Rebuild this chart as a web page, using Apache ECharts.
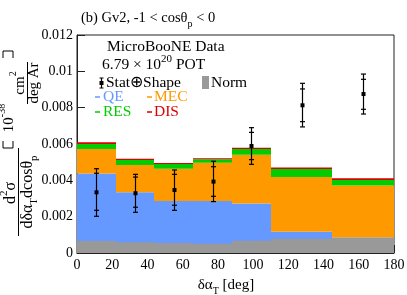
<!DOCTYPE html>
<html><head><meta charset="utf-8">
<script src="https://cdn.jsdelivr.net/npm/echarts@6/dist/echarts.min.js"></script>
<style>html,body{margin:0;padding:0;background:#fff}#c{width:407px;height:295px}</style>
</head><body><div id="c"></div>
<script>
// ---- data ----
const binEdges = [0, 22, 44, 66, 88, 110, 145, 180];
const qeVals   = [0.00437, 0.00334, 0.00286, 0.00286, 0.00272, 0.00117, 0.00086];
const mecVals  = [0.00135, 0.00150, 0.00178, 0.00211, 0.00269, 0.00301, 0.00285];
const resVals  = [0.00028, 0.00028, 0.00026, 0.00019, 0.00032, 0.00044, 0.00031];
const disVals  = [0.00009, 0.00007, 0.00005, 0.00005, 0.00007, 0.00008, 0.00009];
const normVals = [0.00066, 0.00059, 0.00055, 0.00051, 0.00068, 0.00079, 0.00084];
const dataX    = [11, 33, 55, 77, 99, 127.5, 162.5];
const dataY    = [0.00334, 0.00329, 0.00347, 0.00393, 0.00589, 0.00813, 0.00875];
const statLo   = [0.00235, 0.00252, 0.00263, 0.00312, 0.00514, 0.00723, 0.00791];
const statHi   = [0.00439, 0.00418, 0.00433, 0.00475, 0.00664, 0.00903, 0.00956];
const totLo    = [0.00202, 0.00224, 0.00235, 0.00283, 0.00488, 0.00694, 0.00765];
const totHi    = [0.00464, 0.00433, 0.00457, 0.00505, 0.00690, 0.00934, 0.00985];
const xTickLabels = ['0','20','40','60','80','100','120','140','160','180'];
const yTickLabels = ['0','0.002','0.004','0.006','0.008','0.01','0.012'];

const SERIF = '"Liberation Serif", "Times New Roman", serif';
const C_QE = '#6699ff', C_MEC = '#ff9900', C_RES = '#00cc00', C_DIS = '#dd0000', C_NORM = '#999999';

// stacked layers
const layers = [qeVals, mecVals, resVals, disVals];
const layerColors = [C_QE, C_MEC, C_RES, C_DIS];
const layerNames = ['QE','MEC','RES','DIS'];
const base = binEdges.slice(0, -1).map(() => 0);
const layerData = layers.map(vals => vals.map((v, i) => {
  const item = [binEdges[i], binEdges[i+1], base[i], base[i] + v];
  base[i] += v;
  return item;
}));
const normData = normVals.map((v, i) => [binEdges[i], binEdges[i+1], 0, v]);
const errData = dataX.map((x, i) => [x, dataY[i], statLo[i], statHi[i], totLo[i], totHi[i]]);

function renderRect(params, api) {
  const a = api.coord([api.value(0), api.value(3)]);
  const b = api.coord([api.value(1), api.value(2)]);
  const x0 = Math.round(a[0]), x1 = Math.round(b[0]);
  return {type: 'rect', shape: {x: x0, y: a[1], width: x1 - x0, height: b[1] - a[1]},
          style: {fill: api.visual('color')}};
}
function renderErr(params, api) {
  const x = api.value(0);
  const c = api.coord([x, api.value(1)]);
  const yv = k => api.coord([x, api.value(k)])[1];
  const px = Math.round(c[0]) + 0.5;
  const st = {stroke: '#000', lineWidth: 1.2};
  const cap = y => ({type: 'line', shape: {x1: px - 2.5, y1: y, x2: px + 2.5, y2: y}, style: st});
  return {type: 'group', children: [
    {type: 'line', shape: {x1: px, y1: yv(4), x2: px, y2: yv(5)}, style: st},
    cap(yv(4)), cap(yv(5)), cap(yv(2)), cap(yv(3)),
    {type: 'rect', shape: {x: px - 2, y: c[1] - 2, width: 4, height: 4}, style: {fill: '#000'}}
  ]};
}

const series = layerData.map((d, k) => ({
  type: 'custom', name: layerNames[k], renderItem: renderRect, data: d,
  encode: {x: [0, 1], y: [2, 3]}, itemStyle: {color: layerColors[k]}, silent: true, z: 2
}));
series.push({type: 'custom', name: 'Norm', renderItem: renderRect, data: normData,
  encode: {x: [0, 1], y: [2, 3]}, itemStyle: {color: C_NORM}, silent: true, z: 3});
series.push({type: 'custom', name: 'Data', renderItem: renderErr, data: errData,
  encode: {x: 0, y: [1, 4, 5]}, silent: true, z: 5});

const sub = (fs) => ({fontSize: fs, fontFamily: SERIF, fill: '#000', verticalAlign: 'bottom', lineHeight: fs});
const sup = (fs) => ({fontSize: fs, fontFamily: SERIF, fill: '#000', verticalAlign: 'top', lineHeight: fs});
const main = (fs, lh) => ({fontSize: fs, fontFamily: SERIF, fill: '#000', lineHeight: lh});

function txt(x, y, text, fs, opts) {
  opts = opts || {};
  return {type: 'text', x: x, y: y, rotation: opts.rot || 0, z: 100,
    style: {text: text, fontSize: fs, fontFamily: SERIF, fill: opts.fill || '#000',
      align: opts.align || 'left', verticalAlign: 'middle',
      rich: {m: main(fs, fs + 8), b: sub(Math.round(fs * 0.68)), t: sup(Math.round(fs * 0.68))}}};
}
function line(x1, y1, x2, y2, color, w) {
  return {type: 'line', z: 100, shape: {x1, y1, x2, y2}, style: {stroke: color || '#000', lineWidth: w || 1}};
}
function poly(pts) {
  return {type: 'polyline', z: 100, shape: {points: pts}, style: {stroke: '#000', lineWidth: 1, fill: null}};
}
const R = Math.PI / 2;

const graphic = [
  // title
  txt(81, 18, '{m|(b) Gv2, -1 < cosθ}{b|p}{m| < 0}', 14.5),
  // legend block
  txt(107, 47, 'MicroBooNE Data', 15.5),
  txt(102, 65, '{m|6.79 × 10}{t|20}{m| POT}', 15.5),
  line(101.5, 78, 101.5, 88, '#000', 1.2), line(99.5, 78, 103.5, 78, '#000', 1), line(99.5, 88, 103.5, 88, '#000', 1),
  {type: 'rect', z: 100, shape: {x: 99.5, y: 81, width: 4, height: 4}, style: {fill: '#000'}},
  txt(106, 83, 'Stat⊕Shape', 15.5),
  {type: 'rect', z: 100, shape: {x: 202, y: 76, width: 7, height: 13}, style: {fill: C_NORM}},
  txt(211, 83, 'Norm', 15.5),
  line(95, 97, 100, 97, C_QE, 1.5), txt(103, 97, 'QE', 15.5, {fill: C_QE}),
  line(147, 97, 152, 97, C_MEC, 1.5), txt(154, 97, 'MEC', 15.5, {fill: C_MEC}),
  line(95, 112, 100, 112, C_RES, 1.5), txt(103, 112, 'RES', 15.5, {fill: C_RES}),
  line(147, 112, 152, 112, C_DIS, 1.5), txt(154, 112, 'DIS', 15.5, {fill: C_DIS}),
  // x axis title
  txt(226, 285, '{m|δα}{b|T}{m| [deg]}', 15, {align: 'center'}),
  // y axis title (rotated)
  txt(11, 193, '{m|d}{t|2}{m|σ}', 16, {align: 'center', rot: R}),
  line(18.5, 148, 18.5, 236, '#000', 1),
  txt(28, 192, '{m|dδα}{b|T}{m|dcosθ}{b|p}', 16, {align: 'center', rot: R}),
  poly([[3, 141], [3, 148], [13, 148], [13, 141]]),
  txt(9, 118, '{m|10}{t|-38}', 15, {align: 'center', rot: R}),
  txt(20, 83, '{m|cm}{t|2}', 15, {align: 'center', rot: R}),
  line(27.5, 62, 27.5, 104, '#000', 1),
  txt(34, 83, 'deg Ar', 15, {align: 'center', rot: R}),
  poly([[3, 58], [3, 51], [13, 51], [13, 58]])
];

const chart = echarts.init(document.getElementById('c'), null, {renderer: 'canvas'});
chart.setOption({
  animation: false,
  backgroundColor: '#fff',
  grid: {left: 77, right: 13, top: 35, bottom: 42, show: true, borderColor: '#222', borderWidth: 1,
         containLabel: false, outerBoundsMode: 'none'},
  xAxis: {type: 'value', min: 0, max: 180, interval: 20,
    axisLine: {lineStyle: {color: '#222', width: 1}},
    axisTick: {inside: true, length: 8, lineStyle: {color: '#222'}},
    splitLine: {show: false},
    axisLabel: {fontFamily: SERIF, fontSize: 14, color: '#000', margin: 5,
      formatter: (v) => xTickLabels[Math.round(v / 20)] }},
  yAxis: {type: 'value', min: 0, max: 0.012, interval: 0.002,
    axisLine: {show: true, lineStyle: {color: '#222', width: 1}},
    axisTick: {show: true, inside: true, length: 8, lineStyle: {color: '#222'}},
    splitLine: {show: false},
    axisLabel: {fontFamily: SERIF, fontSize: 14, color: '#000', margin: 4,
      formatter: (v) => yTickLabels[Math.round(v / 0.002)] }},
  series: series,
  graphic: graphic
});
</script>
</body></html>
